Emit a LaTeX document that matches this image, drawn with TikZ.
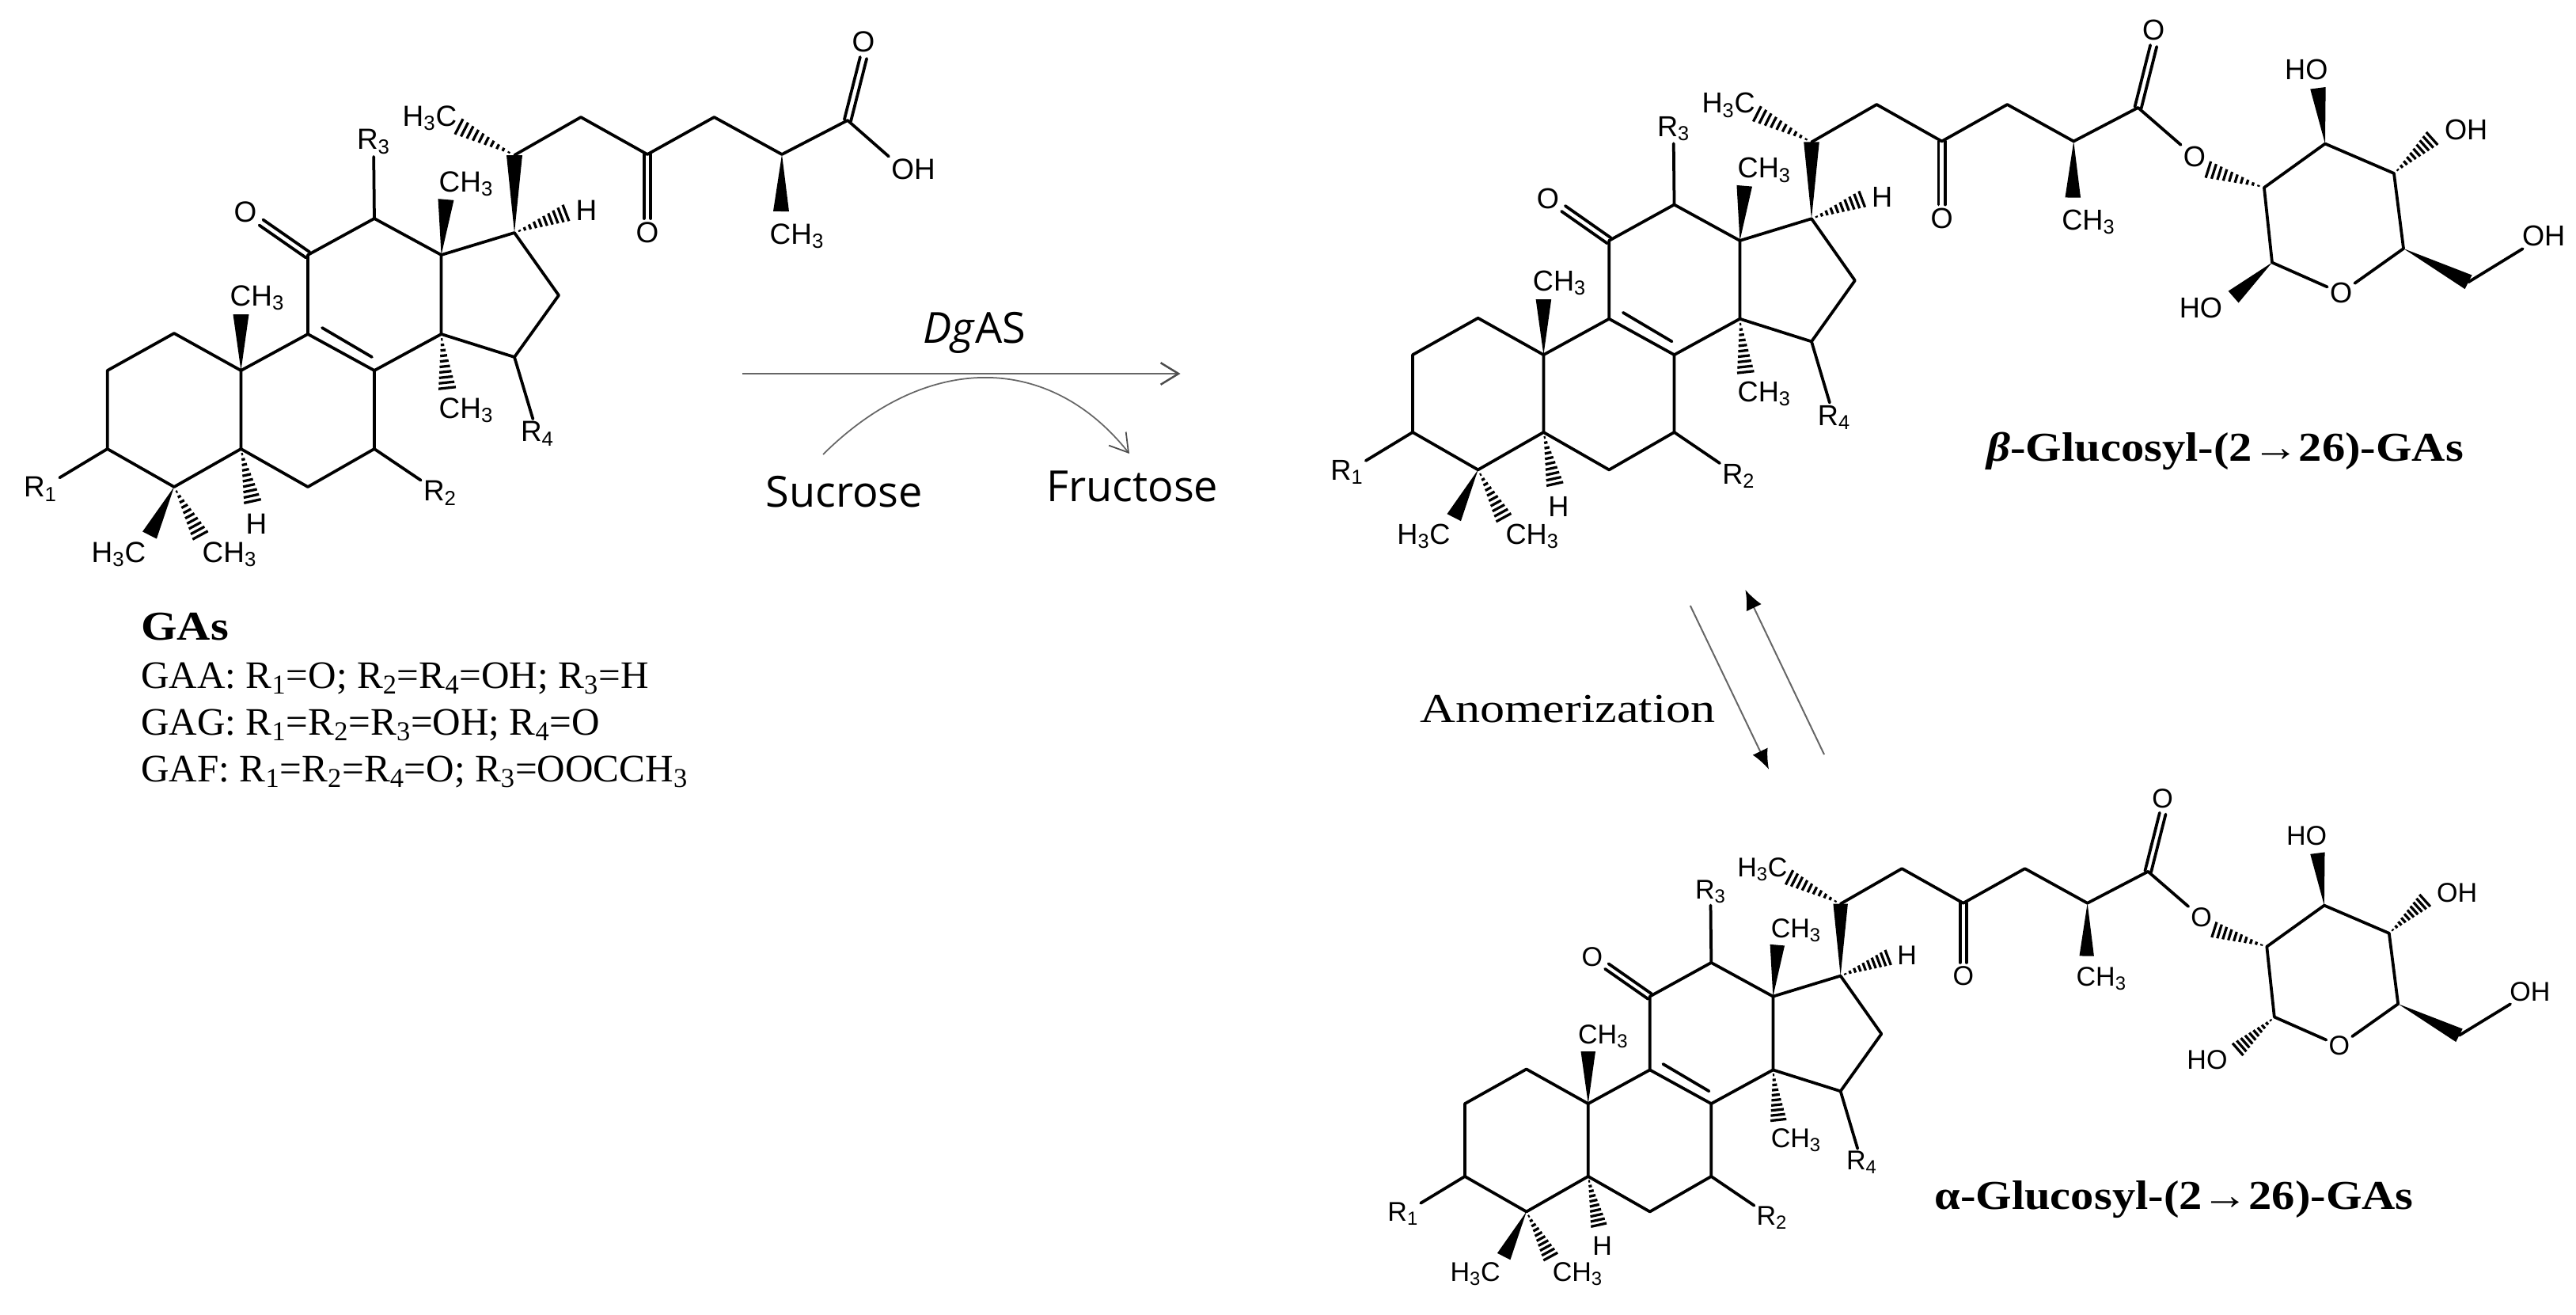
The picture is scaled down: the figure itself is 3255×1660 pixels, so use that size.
\documentclass[tikz,border=0pt]{standalone}
\usepackage{fontspec}
\setmainfont[FakeStretch=1.13]{Liberation Serif}
\newfontfamily\gafont{Liberation Serif}
\newfontfamily\anomerfont[FakeStretch=1.2]{Liberation Serif}
\newfontfamily\atomfont{Liberation Sans}
\newfontfamily\flowfont{Open Sans}
\usetikzlibrary{calc}
\usetikzlibrary{arrows.meta}
\tikzstyle{bond} = [draw, line width=0.075cm, line cap=round, line join=round]
\tikzstyle{hash} = [draw, line width=0.065cm]
\tikzstyle{atom} = [font=\atomfont\fontsize{21}{21}\selectfont, inner sep=0.06cm, transform shape]
\tikzstyle{caption} = [font=\fontsize{29.5}{30}\selectfont, anchor=base west, inner sep=0pt]
\tikzstyle{galine} = [font=\gafont\fontsize{28}{30}\selectfont, anchor=base west, inner sep=0pt]
\tikzstyle{flowtext} = [font=\flowfont\fontsize{30.8}{32}\selectfont, anchor=base west, inner sep=0pt]
\tikzstyle{flow} = [draw, black!60, line width=0.05cm, -{Straight Barb[length=0.45cm,width=0.55cm,black!70]}]
\tikzstyle{equil} = [draw, black!60, line width=0.04cm, -{Latex[length=0.5cm,width=0.42cm,black]}]

\newcommand{\wedgebond}[2]{
  \fill ($(#1)$) -- ($(#2)!0.2cm!90:(#1)$) -- ($(#2)!0.2cm!-90:(#1)$) -- cycle;
}
\newcommand{\hashbond}[2]{
  \foreach \hpos in {0.1,0.2,...,1.0}{
    \pgfmathsetmacro{\hwid}{\hpos*0.22}
    \path[hash] ($($(#1)!\hpos!(#2)$)!\hwid cm!90:(#1)$) -- ($($(#1)!\hpos!(#2)$)!\hwid cm!-90:(#1)$);
  }
}
\newcommand{\dblbond}[2]{
  \path[bond] ($(#1)!0.085cm!90:(#2)$) -- ($(#2)!0.085cm!-90:(#1)$);
  \path[bond] ($(#1)!0.085cm!-90:(#2)$) -- ($(#2)!0.085cm!90:(#1)$);
}

% steroid part with the side chain up to the carboxyl carbon
\newcommand{\gacore}[1]{
  \coordinate (#1c1) at (220,421);
  \coordinate (#1c2) at (135.7,468);
  \coordinate (#1c3) at (135.7,567);
  \coordinate (#1c4) at (220,615);
  \coordinate (#1c5) at (304.5,567);
  \coordinate (#1c6) at (389,615);
  \coordinate (#1c7) at (473,567);
  \coordinate (#1c8) at (473,468);
  \coordinate (#1c9) at (389,422);
  \coordinate (#1c10) at (304.5,468);
  \coordinate (#1c11) at (389,322);
  \coordinate (#1c12) at (473,276);
  \coordinate (#1c13) at (557.6,322);
  \coordinate (#1c14) at (557.6,422);
  \coordinate (#1c15) at (650,451);
  \coordinate (#1c16) at (706,373);
  \coordinate (#1c17) at (650,294);
  \coordinate (#1c20) at (650,196);
  \coordinate (#1c22) at (734,148);
  \coordinate (#1c23) at (818,195);
  \coordinate (#1c24) at (902.4,148);
  \coordinate (#1c25) at (988,195);
  \coordinate (#1c26) at (1071,152);
  \coordinate (#1in8) at (470,451);
  \coordinate (#1in9) at (407,414);
  \coordinate (#1e11) at (330,281);
  \coordinate (#1e23) at (818,276);
  \coordinate (#1e26) at (1091,73);
  \coordinate (#1t10) at (304.5,397);
  \coordinate (#1t13) at (563.5,252);
  \coordinate (#1t14) at (565,490);
  \coordinate (#1t17) at (715,269);
  \coordinate (#1t20) at (580,160);
  \coordinate (#1t5) at (319,633);
  \coordinate (#1t4a) at (189,676);
  \coordinate (#1t4b) at (253,676);
  \coordinate (#1t25) at (987,267);

  \node[atom] (#1r1) at (51,618) {R\textsubscript{1}};
  \node[atom] (#1r2) at (556,623) {R\textsubscript{2}};
  \node[atom] (#1r3) at (472,179) {R\textsubscript{3}};
  \node[atom] (#1r4) at (679,548) {R\textsubscript{4}};
  \node[atom] (#1o11) at (310,268) {O};
  \node[atom] (#1o23) at (818,294) {O};
  \node[atom] (#1o26) at (1091,53) {O};
  \node[atom] (#1me10) at (325,376) {CH\textsubscript{3}};
  \node[atom] (#1me13) at (589,232) {CH\textsubscript{3}};
  \node[atom] (#1me14) at (589,518) {CH\textsubscript{3}};
  \node[atom] (#1me20) at (543,149) {H\textsubscript{3}C};
  \node[atom] (#1me25) at (1007,298) {CH\textsubscript{3}};
  \node[atom] (#1me4a) at (150,700) {H\textsubscript{3}C};
  \node[atom] (#1me4b) at (290,700) {CH\textsubscript{3}};
  \node[atom] (#1h5) at (324,662) {H};
  \node[atom] (#1h17) at (741,266) {H};

  \path[bond] (#1c3) -- (#1c2) -- (#1c1) -- (#1c10) -- (#1c5) -- (#1c4) -- cycle;
  \path[bond] (#1c10) -- (#1c9) -- (#1c8) -- (#1c7) -- (#1c6) -- (#1c5);
  \path[bond] (#1c9) -- (#1c11) -- (#1c12) -- (#1c13) -- (#1c14) -- (#1c8);
  \path[bond] (#1c13) -- (#1c17) -- (#1c16) -- (#1c15) -- (#1c14);
  \path[bond] (#1c20) -- (#1c22) -- (#1c23) -- (#1c24) -- (#1c25) -- (#1c26);
  \path[bond] (#1in9) -- (#1in8);
  \path[bond] (#1c3) -- (#1r1);
  \path[bond] (#1c7) -- (#1r2);
  \path[bond] (#1c12) -- (#1r3);
  \path[bond] (#1c15) -- (#1r4);
  \dblbond{#1c11}{#1e11}
  \dblbond{#1c23}{#1e23}
  \dblbond{#1c26}{#1e26}
  \wedgebond{#1c10}{#1t10}
  \wedgebond{#1c13}{#1t13}
  \wedgebond{#1c17}{#1c20}
  \wedgebond{#1c25}{#1t25}
  \wedgebond{#1c4}{#1t4a}
  \hashbond{#1c14}{#1t14}
  \hashbond{#1c17}{#1t17}
  \hashbond{#1c20}{#1t20}
  \hashbond{#1c5}{#1t5}
  \hashbond{#1c4}{#1t4b}
}

% glucosyl part, #2 is \wedgebond or \hashbond for the anomeric OH
\newcommand{\gasugar}[2]{
  \coordinate (#1s1) at (1243.9,350);
  \coordinate (#1s2) at (1233.6,254.2);
  \coordinate (#1s3) at (1312.2,198.1);
  \coordinate (#1s4) at (1401,236);
  \coordinate (#1s5) at (1413.3,332.2);
  \coordinate (#1s6) at (1497,375);
  \coordinate (#1t1) at (1194,394);
  \coordinate (#1t3) at (1303,127);
  \coordinate (#1t4) at (1450,191.5);

  \node[atom] (#1oe) at (1143.9,214.8) {O};
  \node[atom] (#1or) at (1332.7,389) {O};
  \node[atom] (#1oh1) at (1152,408) {HO};
  \node[atom] (#1oh3) at (1288,103) {HO};
  \node[atom] (#1oh4) at (1494,180.4) {OH};
  \node[atom] (#1oh6) at (1594,316) {OH};

  \path[bond] (#1c26) -- (#1oe);
  \path[bond] (#1or) -- (#1s1) -- (#1s2) -- (#1s3) -- (#1s4) -- (#1s5) -- (#1or);
  \path[bond] (#1s6) -- (#1oh6);
  \hashbond{#1s2}{#1oe.south east}
  \wedgebond{#1s3}{#1t3}
  \hashbond{#1s4}{#1t4}
  \wedgebond{#1s5}{#1s6}
  #2{#1s1}{#1t1}
}

\begin{document}
\begin{tikzpicture}[x=0.02cm, y=-0.02cm]
  \useasboundingbox (0,0) rectangle (3255,1660);

  \begin{scope}
    \gacore{a}
    \node[atom] (aoh) at (1154,214) {OH};
    \path[bond] (ac26) -- (aoh.north west);
  \end{scope}

  \begin{scope}[shift={(1652,-14.2)}, xscale=0.98, yscale=0.988]
    \gacore{b}
    \gasugar{b}{\wedgebond}
  \end{scope}

  \begin{scope}[shift={(1725.7,959.8)}, xscale=0.923, yscale=0.928]
    \gacore{g}
    \gasugar{g}{\hashbond}
  \end{scope}

  \node[caption] (gas) at (178,808) {\textbf{GAs}};
  \node[galine] (gaa) at (178,869) {GAA: R\textsubscript{1}=O; R\textsubscript{2}=R\textsubscript{4}=OH; R\textsubscript{3}=H};
  \node[galine] (gag) at (178,928) {GAG: R\textsubscript{1}=R\textsubscript{2}=R\textsubscript{3}=OH; R\textsubscript{4}=O};
  \node[galine] (gaf) at (178,987) {GAF: R\textsubscript{1}=R\textsubscript{2}=R\textsubscript{4}=O; R\textsubscript{3}=OOCCH\textsubscript{3}};
  \node[caption] (betalab) at (2510,582) {\textbf{\textit{β}-Glucosyl-(2→26)-GAs}};
  \node[caption] (alphalab) at (2444,1527) {\textbf{α-Glucosyl-(2→26)-GAs}};
  \node[caption, font=\anomerfont\fontsize{29.5}{30}\selectfont] (anomer) at (1794,912) {Anomerization};

  \node[flowtext] (dgas) at (1166,433) {\textit{Dg}AS};
  \node[flowtext] (sucrose) at (967,640) {Sucrose};
  \node[flowtext] (fructose) at (1322,633) {Fructose};

  \coordinate (mainin) at (937.5,472);
  \coordinate (mainout) at (1491.5,472);
  \coordinate (sucin) at (1040,574);
  \coordinate (fruout) at (1427,573);
  \coordinate (downin) at (2135.8,765);
  \coordinate (downout) at (2235,971.7);
  \coordinate (upin) at (2305,953);
  \coordinate (upout) at (2205.4,745);

  \path[flow] (mainin) -- (mainout);
  \path[flow, line width=0.035cm] (sucin) .. controls (1170,445) and (1325,445) .. (fruout);
  \path[equil] (downin) -- (downout);
  \path[equil] (upin) -- (upout);

\end{tikzpicture}
\end{document}
